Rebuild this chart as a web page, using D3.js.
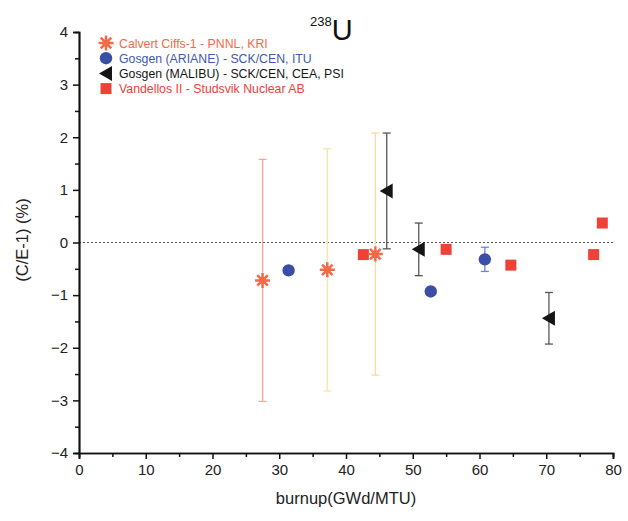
<!DOCTYPE html>
<html>
<head>
<meta charset="utf-8">
<script src="https://cdn.jsdelivr.net/npm/d3@7"></script>
<style>
  body { margin: 0; background: #fff; }
  svg { font-family: "Liberation Sans", Arial, sans-serif; }
</style>
</head>
<body>
<div id="chart"></div>
<script>
const WIDTH = 628;
const HEIGHT = 521;

// Calvert Cliffs-1 - PNNL, KRI
const calvertX = [27.5, 37.2, 44.4];
const calvertY = [-0.72, -0.52, -0.22];
const calvertErr = [2.3, 2.3, 2.3];
// Gosgen (ARIANE)
const arianeX = [31.4, 52.7, 60.8];
const arianeY = [-0.53, -0.93, -0.32];
const arianeErr = [0, 0, 0.23];
// Gosgen (MALIBU)
const malibuX = [46.1, 50.9, 70.4];
const malibuY = [0.98, -0.13, -1.44];
const malibuErr = [1.1, 0.5, 0.49];
// Vandellos II
const vandX = [42.6, 55.0, 64.7, 77.1, 78.4];
const vandY = [-0.23, -0.13, -0.43, -0.23, 0.37];

const xTicks = [0, 10, 20, 30, 40, 50, 60, 70, 80];
const yTicks = [-4, -3, -2, -1, 0, 1, 2, 3, 4];

const legendLabels = [
  'Calvert Ciffs-1 - PNNL, KRI',
  'Gosgen (ARIANE) - SCK/CEN, ITU',
  'Gosgen (MALIBU) - SCK/CEN, CEA, PSI',
  'Vandellos II - Studsvik Nuclear AB'
];

const calvertBarColors = ['#f2a898', '#f6e6a8', '#f7dba0'];

const xScale = d3.scaleLinear().domain([0, 80]).range([79, 613]);
const yScale = d3.scaleLinear().domain([-4, 4]).range([453, 32]);

const svg = d3.select('#chart')
              .append('svg')
              .attr('width', WIDTH)
              .attr('height', HEIGHT);

// dotted zero line
svg.append('line')
   .attr('x1', xScale(0)).attr('x2', xScale(80.3))
   .attr('y1', yScale(0)).attr('y2', yScale(0))
   .attr('stroke', '#555')
   .attr('stroke-width', 1.2)
   .attr('stroke-dasharray', '2,2');

// axes
const xAxis = d3.axisBottom(xScale).tickValues(xTicks).tickSize(6).tickPadding(5).tickFormat(d3.format('d'));
const xMinor = d3.axisBottom(xScale).tickValues(d3.range(5, 80, 10)).tickSize(4).tickFormat('');
const yAxis = d3.axisLeft(yScale).tickValues(yTicks).tickSize(6).tickPadding(5).tickFormat(d3.format('d'));
const yMinor = d3.axisLeft(yScale).tickValues(d3.range(-3.5, 4, 1)).tickSize(4).tickFormat('');

function styleAxis(g) {
  g.select('.domain').attr('stroke', '#111').attr('stroke-width', 1.7);
  g.selectAll('.tick line').attr('stroke', '#111').attr('stroke-width', 1.5);
  g.selectAll('.tick text').attr('fill', '#222').style('font-size', '15px');
}

svg.append('g').attr('transform', 'translate(0,' + yScale(-4) + ')').call(xAxis).call(styleAxis);
svg.append('g').attr('transform', 'translate(0,' + yScale(-4) + ')').call(xMinor).call(styleAxis);
svg.append('g').attr('transform', 'translate(' + xScale(0) + ',0)').call(yAxis).call(styleAxis);
svg.append('g').attr('transform', 'translate(' + xScale(0) + ',0)').call(yMinor).call(styleAxis);

// axis titles
svg.append('text')
   .attr('x', 346).attr('y', 504)
   .attr('text-anchor', 'middle')
   .attr('fill', '#222')
   .style('font-size', '16.5px')
   .text('burnup(GWd/MTU)');

svg.append('text')
   .attr('transform', 'translate(28,' + 240 + ') rotate(-90)')
   .attr('text-anchor', 'middle')
   .attr('fill', '#222')
   .style('font-size', '16.5px')
   .text('(C/E-1) (%)');

// title 238U
const title = svg.append('text').attr('x', 310).attr('y', 40).attr('fill', '#111');
title.append('tspan').attr('dy', -14).style('font-size', '13px').text('238');
title.append('tspan').attr('dy', 14).style('font-size', '29px').text('U');

// error bars
function errorBar(x, y, e, color, cap) {
  if (!e) return;
  svg.append('line')
     .attr('x1', xScale(x)).attr('x2', xScale(x))
     .attr('y1', yScale(y + e)).attr('y2', yScale(y - e))
     .attr('stroke', color).attr('stroke-width', 1.3);
  [y + e, y - e].forEach(v => {
    svg.append('line')
       .attr('x1', xScale(x) - cap).attr('x2', xScale(x) + cap)
       .attr('y1', yScale(v)).attr('y2', yScale(v))
       .attr('stroke', color).attr('stroke-width', 1.3);
  });
}

calvertX.forEach((x, i) => errorBar(x, calvertY[i], calvertErr[i], calvertBarColors[i], 4));
malibuX.forEach((x, i) => errorBar(x, malibuY[i], malibuErr[i], '#555', 4));
arianeX.forEach((x, i) => errorBar(x, arianeY[i], arianeErr[i], '#6b86c8', 4));

// marker shapes
const starPath = (function() {
  let p = '';
  for (let k = 0; k < 4; k++) {
    const a = k * Math.PI / 4;
    const r = 7.5;
    p += 'M' + (-r * Math.cos(a)) + ',' + (-r * Math.sin(a)) + 'L' + (r * Math.cos(a)) + ',' + (r * Math.sin(a));
  }
  return p;
})();
const triPath = 'M-7,0L6,-7.5L6,7.5Z';

function drawStar(g, x, y) {
  g.append('path').attr('d', starPath).attr('transform', 'translate(' + x + ',' + y + ')')
   .attr('stroke', '#f26a48').attr('stroke-width', 2.5).attr('fill', 'none');
  g.append('circle').attr('cx', x).attr('cy', y).attr('r', 3.5).attr('fill', '#f26a48');
}
function drawCircle(g, x, y) {
  g.append('circle').attr('cx', x).attr('cy', y).attr('r', 6.2).attr('fill', '#3a4ea6');
}
function drawTri(g, x, y) {
  g.append('path').attr('d', triPath).attr('transform', 'translate(' + x + ',' + y + ')').attr('fill', '#151515');
}
function drawSquare(g, x, y) {
  g.append('rect').attr('x', x - 5.5).attr('y', y - 5.5).attr('width', 11).attr('height', 11).attr('fill', '#ee4238');
}

const marks = svg.append('g');
vandX.forEach((x, i) => drawSquare(marks, xScale(x), yScale(vandY[i])));
calvertX.forEach((x, i) => drawStar(marks, xScale(x), yScale(calvertY[i])));
arianeX.forEach((x, i) => drawCircle(marks, xScale(x), yScale(arianeY[i])));
malibuX.forEach((x, i) => drawTri(marks, xScale(x), yScale(malibuY[i])));

// legend
const legendColors = ['#f26a48', '#3d5aae', '#151515', '#ee4238'];
const legendDraw = [drawStar, drawCircle, drawTri, drawSquare];
const legend = svg.append('g');
legendLabels.forEach((label, i) => {
  const y = 43 + i * 15.2;
  legendDraw[i](legend, 106, y);
  legend.append('text')
        .attr('x', 119).attr('y', y + 4.5)
        .attr('fill', legendColors[i])
        .style('font-size', '12.3px')
        .text(label);
});
</script>
</body>
</html>
